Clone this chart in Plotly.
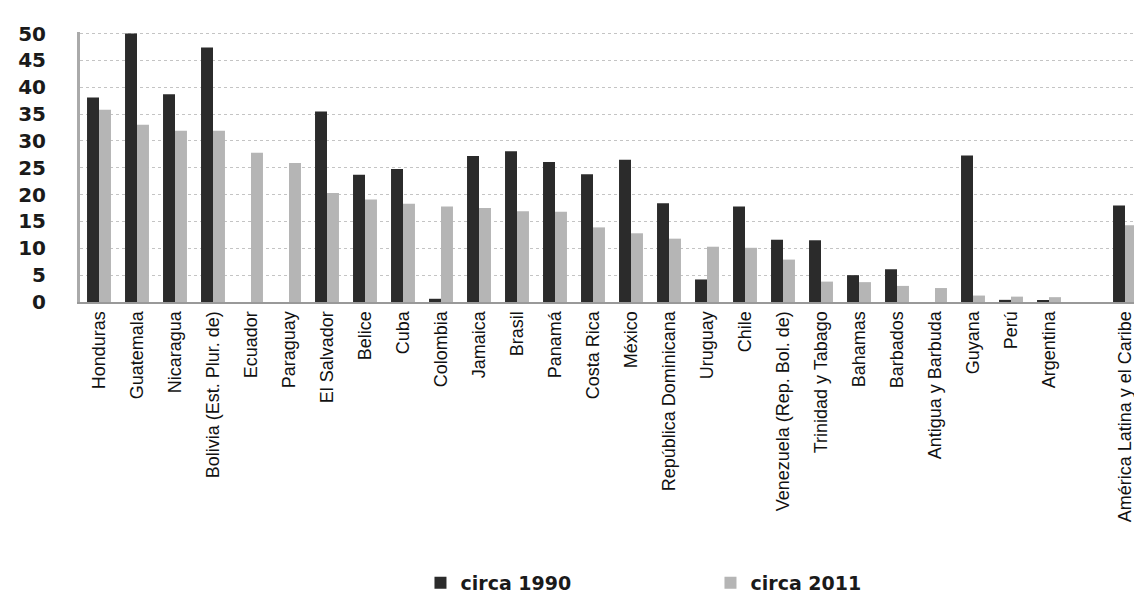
import plotly.graph_objects as go

categories = ["Honduras", "Guatemala", "Nicaragua", "Bolivia (Est. Plur. de)", "Ecuador",
              "Paraguay", "El Salvador", "Belice", "Cuba", "Colombia", "Jamaica", "Brasil",
              "Panamá", "Costa Rica", "México", "República Dominicana", "Uruguay", "Chile",
              "Venezuela (Rep. Bol. de)", "Trinidad y Tabago", "Bahamas", "Barbados",
              "Antigua y Barbuda", "Guyana", "Perú", "Argentina", " ",
              "América Latina y el Caribe"]

circa_1990 = [38.1, 50.0, 38.7, 47.4, None, None, 35.5, 23.7, 24.8, 0.6, 27.2, 28.1,
              26.1, 23.8, 26.5, 18.4, 4.2, 17.8, 11.6, 11.5, 5.0, 6.1, None, 27.3,
              0.4, 0.2, None, 18.0]
circa_2011 = [35.8, 33.0, 31.9, 31.9, 27.8, 25.9, 20.3, 19.1, 18.3, 17.8, 17.5, 16.9,
              16.8, 13.9, 12.8, 11.8, 10.3, 10.1, 7.9, 3.8, 3.7, 3.0, 2.6, 1.2,
              1.0, 0.9, None, 14.3]

series_names = ["circa 1990", "circa 2011"]
colors = ["#2b2b2b", "#b5b5b5"]

fig = go.Figure()
for name, vals, col in zip(series_names, [circa_1990, circa_2011], colors):
    fig.add_trace(go.Bar(x=categories, y=vals, name=name, marker_color=col,
                         marker_line_width=0))

fig.update_layout(
    width=1142, height=599,
    margin=dict(l=72, r=6, t=24, b=300),
    paper_bgcolor="white", plot_bgcolor="white",
    barmode="group", bargap=0.37, bargroupgap=0.0,
    font=dict(family="Liberation Sans, Arial, sans-serif", color="#111111"),
    legend=dict(orientation="h", x=0.32, xanchor="left", y=-1.04, yanchor="middle",
                font=dict(family="DejaVu Sans, sans-serif", size=19, color="#1a1a1a",
                          weight="bold"),
                itemwidth=30, tracegroupgap=0, traceorder="normal",
                entrywidth=245),
    showlegend=True,
)
fig.update_xaxes(
    type="category", categoryorder="array", categoryarray=categories,
    tickangle=-90, tickfont=dict(size=18), showline=True, linecolor="#999999",
    linewidth=2, ticks="", showgrid=False, automargin=False,
)
fig.update_yaxes(
    range=[0, 50.3], tickvals=[0, 5, 10, 15, 20, 25, 30, 35, 40, 45, 50],
    tickfont=dict(family="DejaVu Sans, sans-serif", size=20, color="#1a1a1a",
                  weight="bold"),
    showgrid=True, gridcolor="#c4c4c4", griddash="dot", gridwidth=1,
    showline=True, linecolor="#aaaaaa", linewidth=3, zeroline=False, ticks="",
    ticklabelstandoff=27, automargin=False,
)

fig.write_html("out.html")
